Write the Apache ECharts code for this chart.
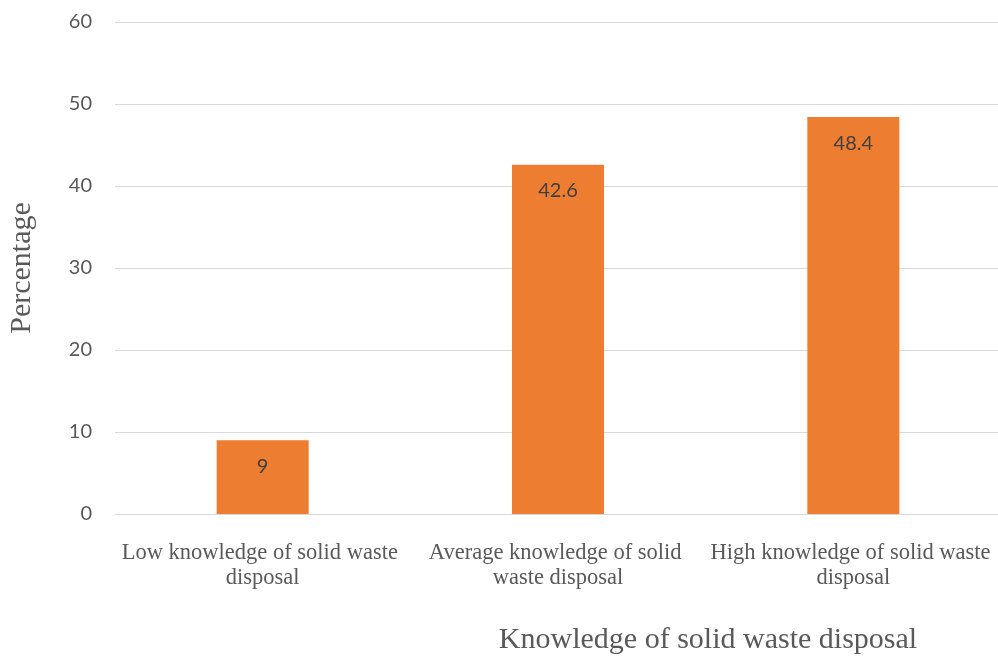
<!DOCTYPE html>
<html>
<head>
<meta charset="utf-8">
<script src="https://cdn.jsdelivr.net/npm/echarts@6/dist/echarts.min.js"></script>
<style>
  html, body { margin: 0; padding: 0; background: #fff; }
  #chart { width: 998px; height: 656px; }
</style>
</head>
<body>
<div id="chart"></div>
<script>
const categories = [
  'Low knowledge of solid waste disposal',
  'Average knowledge of solid waste disposal',
  'High knowledge of solid waste disposal'
]
const percentages = [9, 42.6, 48.4]
const yTicks = { min: 0, max: 60, interval: 10 }

const chart = echarts.init(document.getElementById('chart'))
chart.setOption({
  backgroundColor: '#ffffff',
  animation: false,
  grid: {
    left: 115,
    right: -3,
    top: 22,
    bottom: 142,
    containLabel: false,
    outerBoundsMode: 'none'
  },
  xAxis: {
    type: 'category',
    data: categories,
    name: 'Knowledge of solid waste disposal',
    nameLocation: 'middle',
    nameGap: 111,
    nameTextStyle: {
      fontFamily: 'Liberation Serif',
      fontSize: 30,
      color: '#595959',
      padding: [0, 0, 0, 300]
    },
    axisLine: { lineStyle: { color: '#d9d9d9', width: 1 } },
    axisTick: { show: false },
    axisLabel: {
      interval: 0,
      margin: 27,
      width: 295,
      overflow: 'break',
      lineHeight: 25,
      fontFamily: 'Liberation Serif',
      fontSize: 22.5,
      color: '#595959'
    }
  },
  yAxis: {
    type: 'value',
    min: yTicks.min,
    max: yTicks.max,
    interval: yTicks.interval,
    name: 'Percentage',
    nameLocation: 'middle',
    nameGap: 78,
    nameTextStyle: {
      fontFamily: 'Liberation Serif',
      fontSize: 30,
      color: '#595959'
    },
    axisLine: { show: false },
    axisTick: { show: false },
    splitLine: { lineStyle: { color: '#d9d9d9', width: 1 } },
    axisLabel: {
      margin: 23,
      fontFamily: 'Lato',
      fontSize: 20,
      color: '#595959'
    }
  },
  series: [
    {
      type: 'bar',
      data: percentages,
      barWidth: 92,
      itemStyle: { color: '#ed7d31' },
      label: {
        show: true,
        position: 'insideTop',
        distance: 16,
        fontFamily: 'Lato',
        fontSize: 20,
        color: '#404040'
      }
    }
  ]
})
</script>
</body>
</html>
